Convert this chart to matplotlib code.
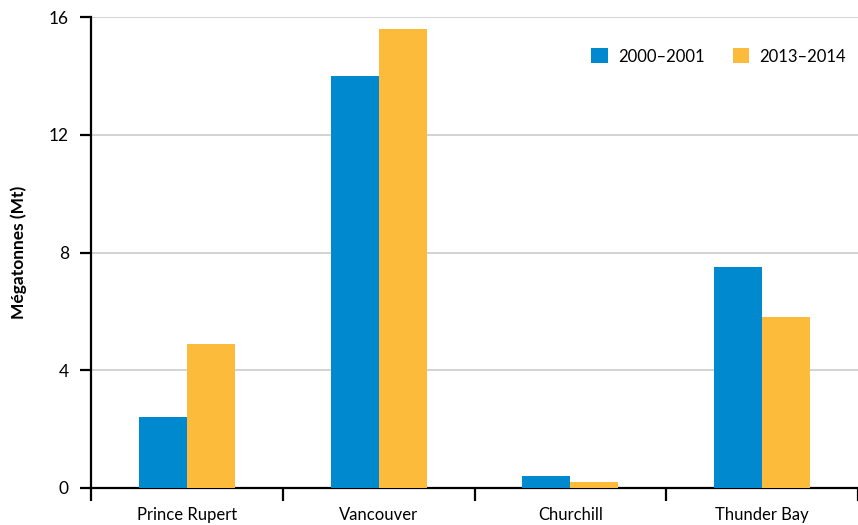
import matplotlib
matplotlib.use("Agg")
import matplotlib.pyplot as plt
import numpy as np

# Data
ports = ["Prince Rupert", "Vancouver", "Churchill", "Thunder Bay"]
series_labels = ["2000\u20132001", "2013\u20132014"]
values_2000 = [2.4, 14.0, 0.4, 7.5]
values_2013 = [4.9, 15.6, 0.2, 5.8]
y_ticks = [0, 4, 8, 12, 16]

colors = ["#0089CF", "#FDBB3B"]

plt.rcParams["font.family"] = ["Lato", "DejaVu Sans"]
fs = 12

fig = plt.figure(figsize=(8.58, 5.25), dpi=100)
ax = fig.add_axes([91 / 858, 37 / 525, 1 - 91 / 858, 471 / 525])

x = np.arange(len(ports))
w = 0.25
ax.bar(x - w / 2, values_2000, width=w, color=colors[0], label=series_labels[0], zorder=3)
ax.bar(x + w / 2, values_2013, width=w, color=colors[1], label=series_labels[1], zorder=3)

ax.set_xlim(-0.5, len(ports) - 0.5)
ax.set_ylim(0, 16)
ax.set_yticks(y_ticks)
ax.set_yticklabels([str(v) for v in y_ticks], fontsize=fs + 0.5)
ax.yaxis.grid(True, color="#d0d0d0", linewidth=1.3, zorder=0)
ax.set_axisbelow(True)

ax.set_xticks(x)
ax.set_xticklabels(ports, fontsize=fs)
ax.tick_params(axis="x", which="major", length=0, pad=14)
ax.set_xticks(np.arange(-0.5, len(ports), 1.0), minor=True)
ax.tick_params(axis="x", which="minor", length=9, width=1.6, direction="out", color="black")
ax.tick_params(axis="y", length=8, width=1.6, direction="out", pad=8)

for side in ["top", "right"]:
    ax.spines[side].set_visible(False)
for side in ["left", "bottom"]:
    ax.spines[side].set_linewidth(1.6)

ax.set_ylabel("M\u00e9gatonnes (Mt)", fontsize=fs + 0.5, fontweight="bold", labelpad=16)

ax.legend(loc="upper right", bbox_to_anchor=(1.004, 0.965), ncol=2, frameon=False,
          fontsize=fs, handlelength=1.0, handleheight=1.0, columnspacing=1.7,
          handletextpad=0.6)

fig.savefig("out.png", dpi=100)
